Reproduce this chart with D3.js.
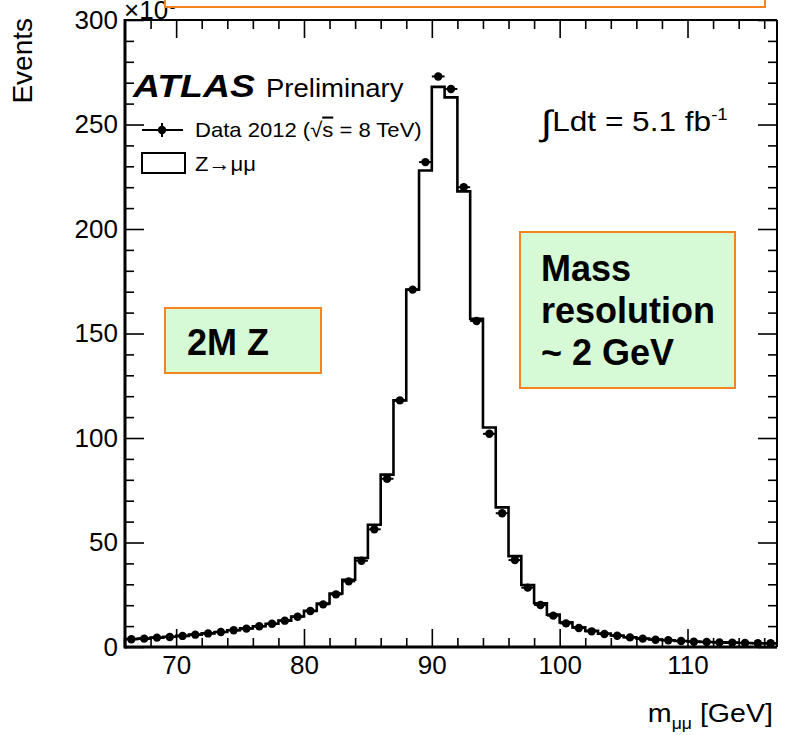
<!DOCTYPE html>
<html>
<head>
<meta charset="utf-8">
<script src="https://cdn.jsdelivr.net/npm/d3@7"></script>
<style>
  body { margin: 0; background: #fff; }
  svg text { font-family: "Liberation Sans", Arial, Helvetica, sans-serif; fill: #000; }
</style>
</head>
<body>
<svg id="chart" width="789" height="735"></svg>
<script>
// Z -> mumu invariant mass, events per 1 GeV bin (x 10^3)
const binStart = 66, binEnd = 117, binWidth = 1;
const dataVals = [3.7, 4.0, 4.5, 4.8, 5.3, 5.9, 6.5, 7.2, 8.0, 8.8,
  9.9, 11.1, 12.6, 14.5, 17.2, 20.4, 25.2, 31.4, 41.3, 56.3,
  80.5, 118, 171, 232, 273, 267, 220, 156, 102,
  64, 41.6, 28.4, 20.1, 15.0, 11.3, 9.1, 7.5, 6.2, 5.4,
  4.6, 4.0, 3.5, 3.2, 2.9, 2.5, 2.4, 2.2, 2.1, 1.9, 1.8, 1.8];
const mcVals = [3.8, 4.1, 4.5, 4.9, 5.3, 5.9, 6.5, 7.2, 8.0, 8.9,
  9.9, 11.1, 12.6, 14.6, 17.3, 20.8, 25.6, 32.2, 42.6, 58.5,
  82.5, 118, 171, 228, 268, 263, 218, 157, 105,
  66.8, 43.5, 29.7, 20.9, 15.5, 11.8, 9.4, 7.7, 6.4, 5.5,
  4.7, 4.1, 3.6, 3.2, 2.9, 2.6, 2.4, 2.2, 2.1, 1.9, 1.8, 1.7];
const xMajor = [70, 80, 90, 100, 110];
const xMinor = [68, 72, 74, 76, 78, 82, 84, 86, 88, 92, 94, 96, 98, 102, 104, 106, 108, 112, 114, 116];
const yMajor = [0, 50, 100, 150, 200, 250, 300];
const yMinor = [10, 20, 30, 40, 60, 70, 80, 90, 110, 120, 130, 140, 160, 170, 180, 190, 210, 220, 230, 240, 260, 270, 280, 290];

const svg = d3.select("#chart");
const pLeft = 125, pRight = 777, pTop = 20, pBottom = 647;

const x = d3.scaleLinear().domain([binStart, binEnd]).range([pLeft, pRight]);
const y = d3.scaleLinear().domain([0, 300]).range([pBottom, pTop]);

svg.append("rect").attr("width", 789).attr("height", 735).attr("fill", "#fff");

function ticks(axis, tr) {
  const g = svg.append("g").attr("transform", tr).call(axis);
  g.select(".domain").remove();
  g.selectAll(".tick line").attr("stroke", "#000").attr("stroke-width", 1.6);
  return g;
}

// x axis (bottom + top)
const xb = ticks(d3.axisBottom(x).tickValues(xMajor).tickSize(-18).tickSizeOuter(0).tickPadding(9).tickFormat(d3.format("d")), `translate(0,${pBottom})`);
xb.selectAll("text").attr("font-size", 26).attr("font-family", "Liberation Sans, Arial, sans-serif");
ticks(d3.axisBottom(x).tickValues(xMinor).tickSize(-9).tickFormat(""), `translate(0,${pBottom})`);
ticks(d3.axisTop(x).tickValues(xMajor).tickSize(-18).tickFormat(""), `translate(0,${pTop})`);
ticks(d3.axisTop(x).tickValues(xMinor).tickSize(-9).tickFormat(""), `translate(0,${pTop})`);

// y axis (left + right)
const yl = ticks(d3.axisLeft(y).tickValues(yMajor).tickSize(-19).tickPadding(7).tickFormat(d3.format("d")), `translate(${pLeft},0)`);
yl.selectAll("text").attr("font-size", 26).attr("font-family", "Liberation Sans, Arial, sans-serif");
ticks(d3.axisLeft(y).tickValues(yMinor).tickSize(-9).tickFormat(""), `translate(${pLeft},0)`);
ticks(d3.axisRight(y).tickValues(yMajor).tickSize(-19).tickFormat(""), `translate(${pRight},0)`);
ticks(d3.axisRight(y).tickValues(yMinor).tickSize(-9).tickFormat(""), `translate(${pRight},0)`);

// histogram (MC)
const steps = [{e: binStart, v: 0}].concat(mcVals.map((v, i) => ({e: binStart + i * binWidth, v: v})));
steps.push({e: binEnd, v: mcVals[mcVals.length - 1]});
svg.append("path")
  .attr("d", d3.line().x(d => x(d.e)).y(d => y(d.v)).curve(d3.curveStepAfter)(steps))
  .attr("fill", "none").attr("stroke", "#000").attr("stroke-width", 2.6);

// data points
const pts = svg.append("g");
dataVals.forEach((v, i) => {
  const lo = binStart + i * binWidth;
  pts.append("line").attr("x1", x(lo)).attr("x2", x(lo + binWidth))
    .attr("y1", y(v)).attr("y2", y(v)).attr("stroke", "#000").attr("stroke-width", 2);
  pts.append("circle").attr("cx", x(lo + binWidth / 2)).attr("cy", y(v)).attr("r", 4.2).attr("fill", "#000");
});

// frame
svg.append("line").attr("x1", pLeft).attr("x2", pRight).attr("y1", pTop).attr("y2", pTop).attr("stroke", "#000").attr("stroke-width", 2);
svg.append("line").attr("x1", pRight).attr("x2", pRight).attr("y1", pTop).attr("y2", pBottom).attr("stroke", "#000").attr("stroke-width", 2);
svg.append("line").attr("x1", pLeft).attr("x2", pLeft).attr("y1", pTop - 1).attr("y2", pBottom + 1.5).attr("stroke", "#000").attr("stroke-width", 3);
svg.append("line").attr("x1", pLeft).attr("x2", pRight).attr("y1", pBottom).attr("y2", pBottom).attr("stroke", "#000").attr("stroke-width", 3);

// axis titles
svg.append("text").attr("transform", "translate(32,18) rotate(-90)")
  .attr("text-anchor", "end").attr("font-size", 28).text("Events");
const xt = svg.append("text").attr("transform", "translate(773,722) scale(1.1,1)").attr("text-anchor", "end").attr("font-size", 26);
xt.append("tspan").text("m");
xt.append("tspan").attr("dy", 7).attr("font-size", 16).text("μμ");
xt.append("tspan").attr("dy", -7).text(" [GeV]");

const mult = svg.append("text").attr("x", 124).attr("y", 19).attr("font-size", 26);
mult.append("tspan").text("×10");
mult.append("tspan").attr("dy", -10).attr("font-size", 16).text("3");

// ATLAS label
svg.append("text").attr("transform", "translate(133,97) scale(1.17,1)")
  .attr("font-size", 32).attr("font-weight", "bold").attr("font-style", "italic").text("ATLAS");
svg.append("text").attr("transform", "translate(266,97) scale(1.1,1)")
  .attr("font-size", 25).text("Preliminary");

// legend
svg.append("line").attr("x1", 142).attr("x2", 183).attr("y1", 130).attr("y2", 130).attr("stroke", "#000").attr("stroke-width", 2);
svg.append("line").attr("x1", 162).attr("x2", 162).attr("y1", 123).attr("y2", 137).attr("stroke", "#000").attr("stroke-width", 2);
svg.append("circle").attr("cx", 162).attr("cy", 130).attr("r", 4.2).attr("fill", "#000");
const lt = svg.append("text").attr("transform", "translate(195,137) scale(1.05,1)").attr("font-size", 21);
lt.append("tspan").text("Data 2012 (√");
lt.append("tspan").style("text-decoration", "overline").text("s");
lt.append("tspan").text(" = 8 TeV)");
svg.append("rect").attr("x", 142).attr("y", 153).attr("width", 43).attr("height", 20)
  .attr("fill", "none").attr("stroke", "#000").attr("stroke-width", 2);
svg.append("text").attr("transform", "translate(195,171) scale(1.05,1)").attr("font-size", 21).text("Z→μμ");

// luminosity
const lum = svg.append("text").attr("transform", "translate(541,131) scale(1.17,1)").attr("font-size", 27);
lum.append("tspan").attr("font-size", 35).attr("dy", 4).text("∫");
lum.append("tspan").attr("dy", -4).text("Ldt = 5.1 fb");
lum.append("tspan").attr("dy", -11).attr("font-size", 16).text("-1");

// slide annotations
const orange = "#f5841f", green = "#d5fad5";
svg.append("rect").attr("x", 165).attr("y", -6).attr("width", 600).attr("height", 13)
  .attr("fill", "#fff").attr("stroke", orange).attr("stroke-width", 2);
svg.append("rect").attr("x", 165).attr("y", 308).attr("width", 156).attr("height", 65)
  .attr("fill", green).attr("stroke", orange).attr("stroke-width", 2);
svg.append("text").attr("x", 187).attr("y", 355).attr("font-size", 36).attr("font-weight", "bold").text("2M Z");
svg.append("rect").attr("x", 520).attr("y", 232).attr("width", 215).attr("height", 156)
  .attr("fill", green).attr("stroke", orange).attr("stroke-width", 2);
["Mass", "resolution", "~ 2 GeV"].forEach((t, i) => {
  svg.append("text").attr("x", 541).attr("y", 281 + i * 42).attr("font-size", 36).attr("font-weight", "bold").text(t);
});
</script>
</body>
</html>
